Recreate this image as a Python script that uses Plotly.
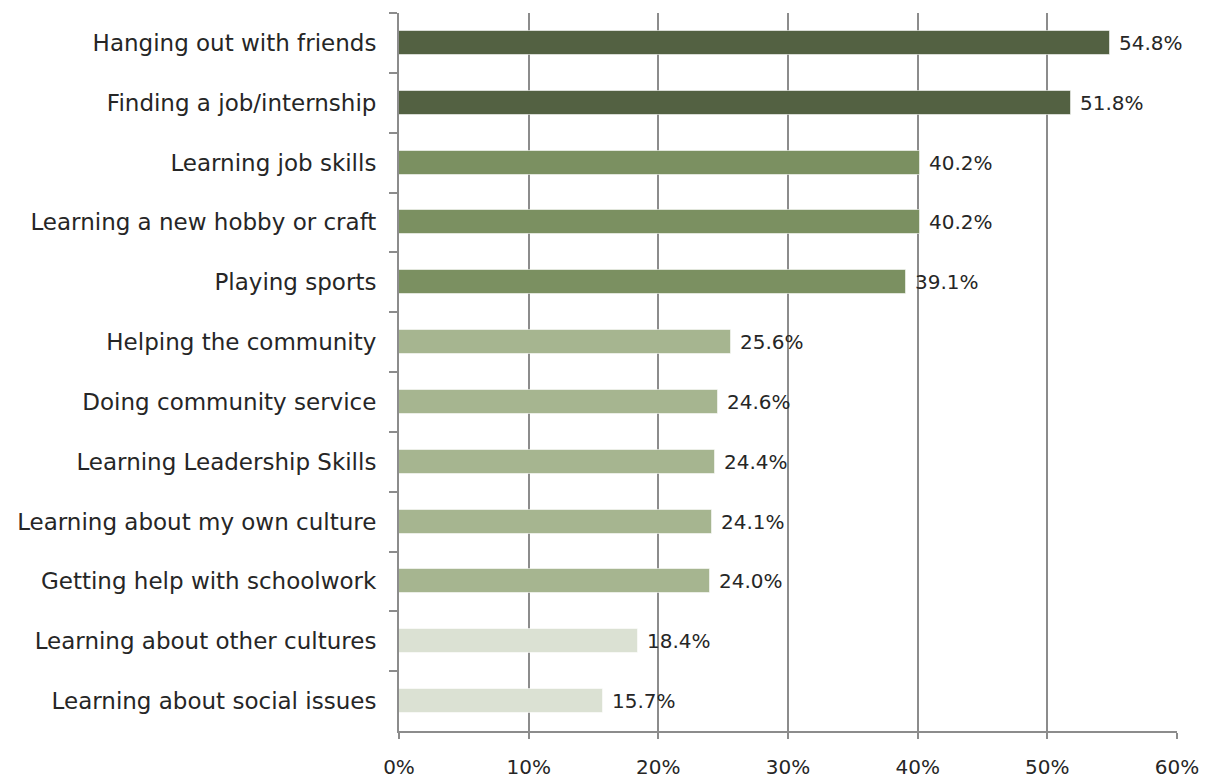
import plotly.graph_objects as go

categories = [
    "Hanging out with friends",
    "Finding a job/internship",
    "Learning job skills",
    "Learning a new hobby or craft",
    "Playing sports",
    "Helping the community",
    "Doing community service",
    "Learning Leadership Skills",
    "Learning about my own culture",
    "Getting help with schoolwork",
    "Learning about other cultures",
    "Learning about social issues",
]
values = [0.548, 0.518, 0.402, 0.402, 0.391, 0.256, 0.246, 0.244, 0.241, 0.240, 0.184, 0.157]
tiers = [0, 0, 1, 1, 1, 2, 2, 2, 2, 2, 3, 3]
tier_colors = ["#536142", "#7b9061", "#a6b590", "#dbe1d3"]
x_ticks = [0, 0.1, 0.2, 0.3, 0.4, 0.5, 0.6]

FONT = "DejaVu Sans"
TEXT = "#262626"
GRID = "#8c8c8c"

fig = go.Figure()
fig.add_trace(go.Bar(
    x=values,
    y=categories,
    orientation="h",
    width=0.4,
    marker=dict(color=[tier_colors[t] for t in tiers],
                line=dict(color="rgba(255,255,255,0.55)", width=1)),
    hoverinfo="skip",
))

# value labels just past the end of each bar
for c, v in zip(categories, values):
    fig.add_annotation(
        x=v, y=c, text=f"{v*100:.1f}%", showarrow=False,
        xanchor="left", yanchor="middle", xshift=7,
        font=dict(family=FONT, size=20, color=TEXT),
    )

fig.update_layout(
    width=1208, height=781,
    margin=dict(l=399, r=31, t=13, b=50, autoexpand=False),
    paper_bgcolor="white", plot_bgcolor="white",
    showlegend=False,
    font=dict(family=FONT, size=20, color=TEXT),
    bargap=0,
)
fig.update_xaxes(
    range=[0, 0.6], tickvals=x_ticks, tickformat=".0%",
    showgrid=True, gridcolor=GRID, gridwidth=2,
    showline=True, linecolor=GRID, linewidth=2,
    ticks="outside", ticklen=6, tickcolor=GRID, tickwidth=2,
    ticklabelstandoff=11, zeroline=False, automargin=False,
    tickfont=dict(family=FONT, size=20, color=TEXT),
)
fig.update_yaxes(
    autorange="reversed", type="category",
    showline=True, linecolor=GRID, linewidth=2,
    ticks="outside", ticklen=8, tickcolor=GRID, tickwidth=2,
    tickson="boundaries", showgrid=False, automargin=False,
    ticklabelstandoff=16,
    tickfont=dict(family=FONT, size=23, color=TEXT),
)

fig.write_html("out.html")
